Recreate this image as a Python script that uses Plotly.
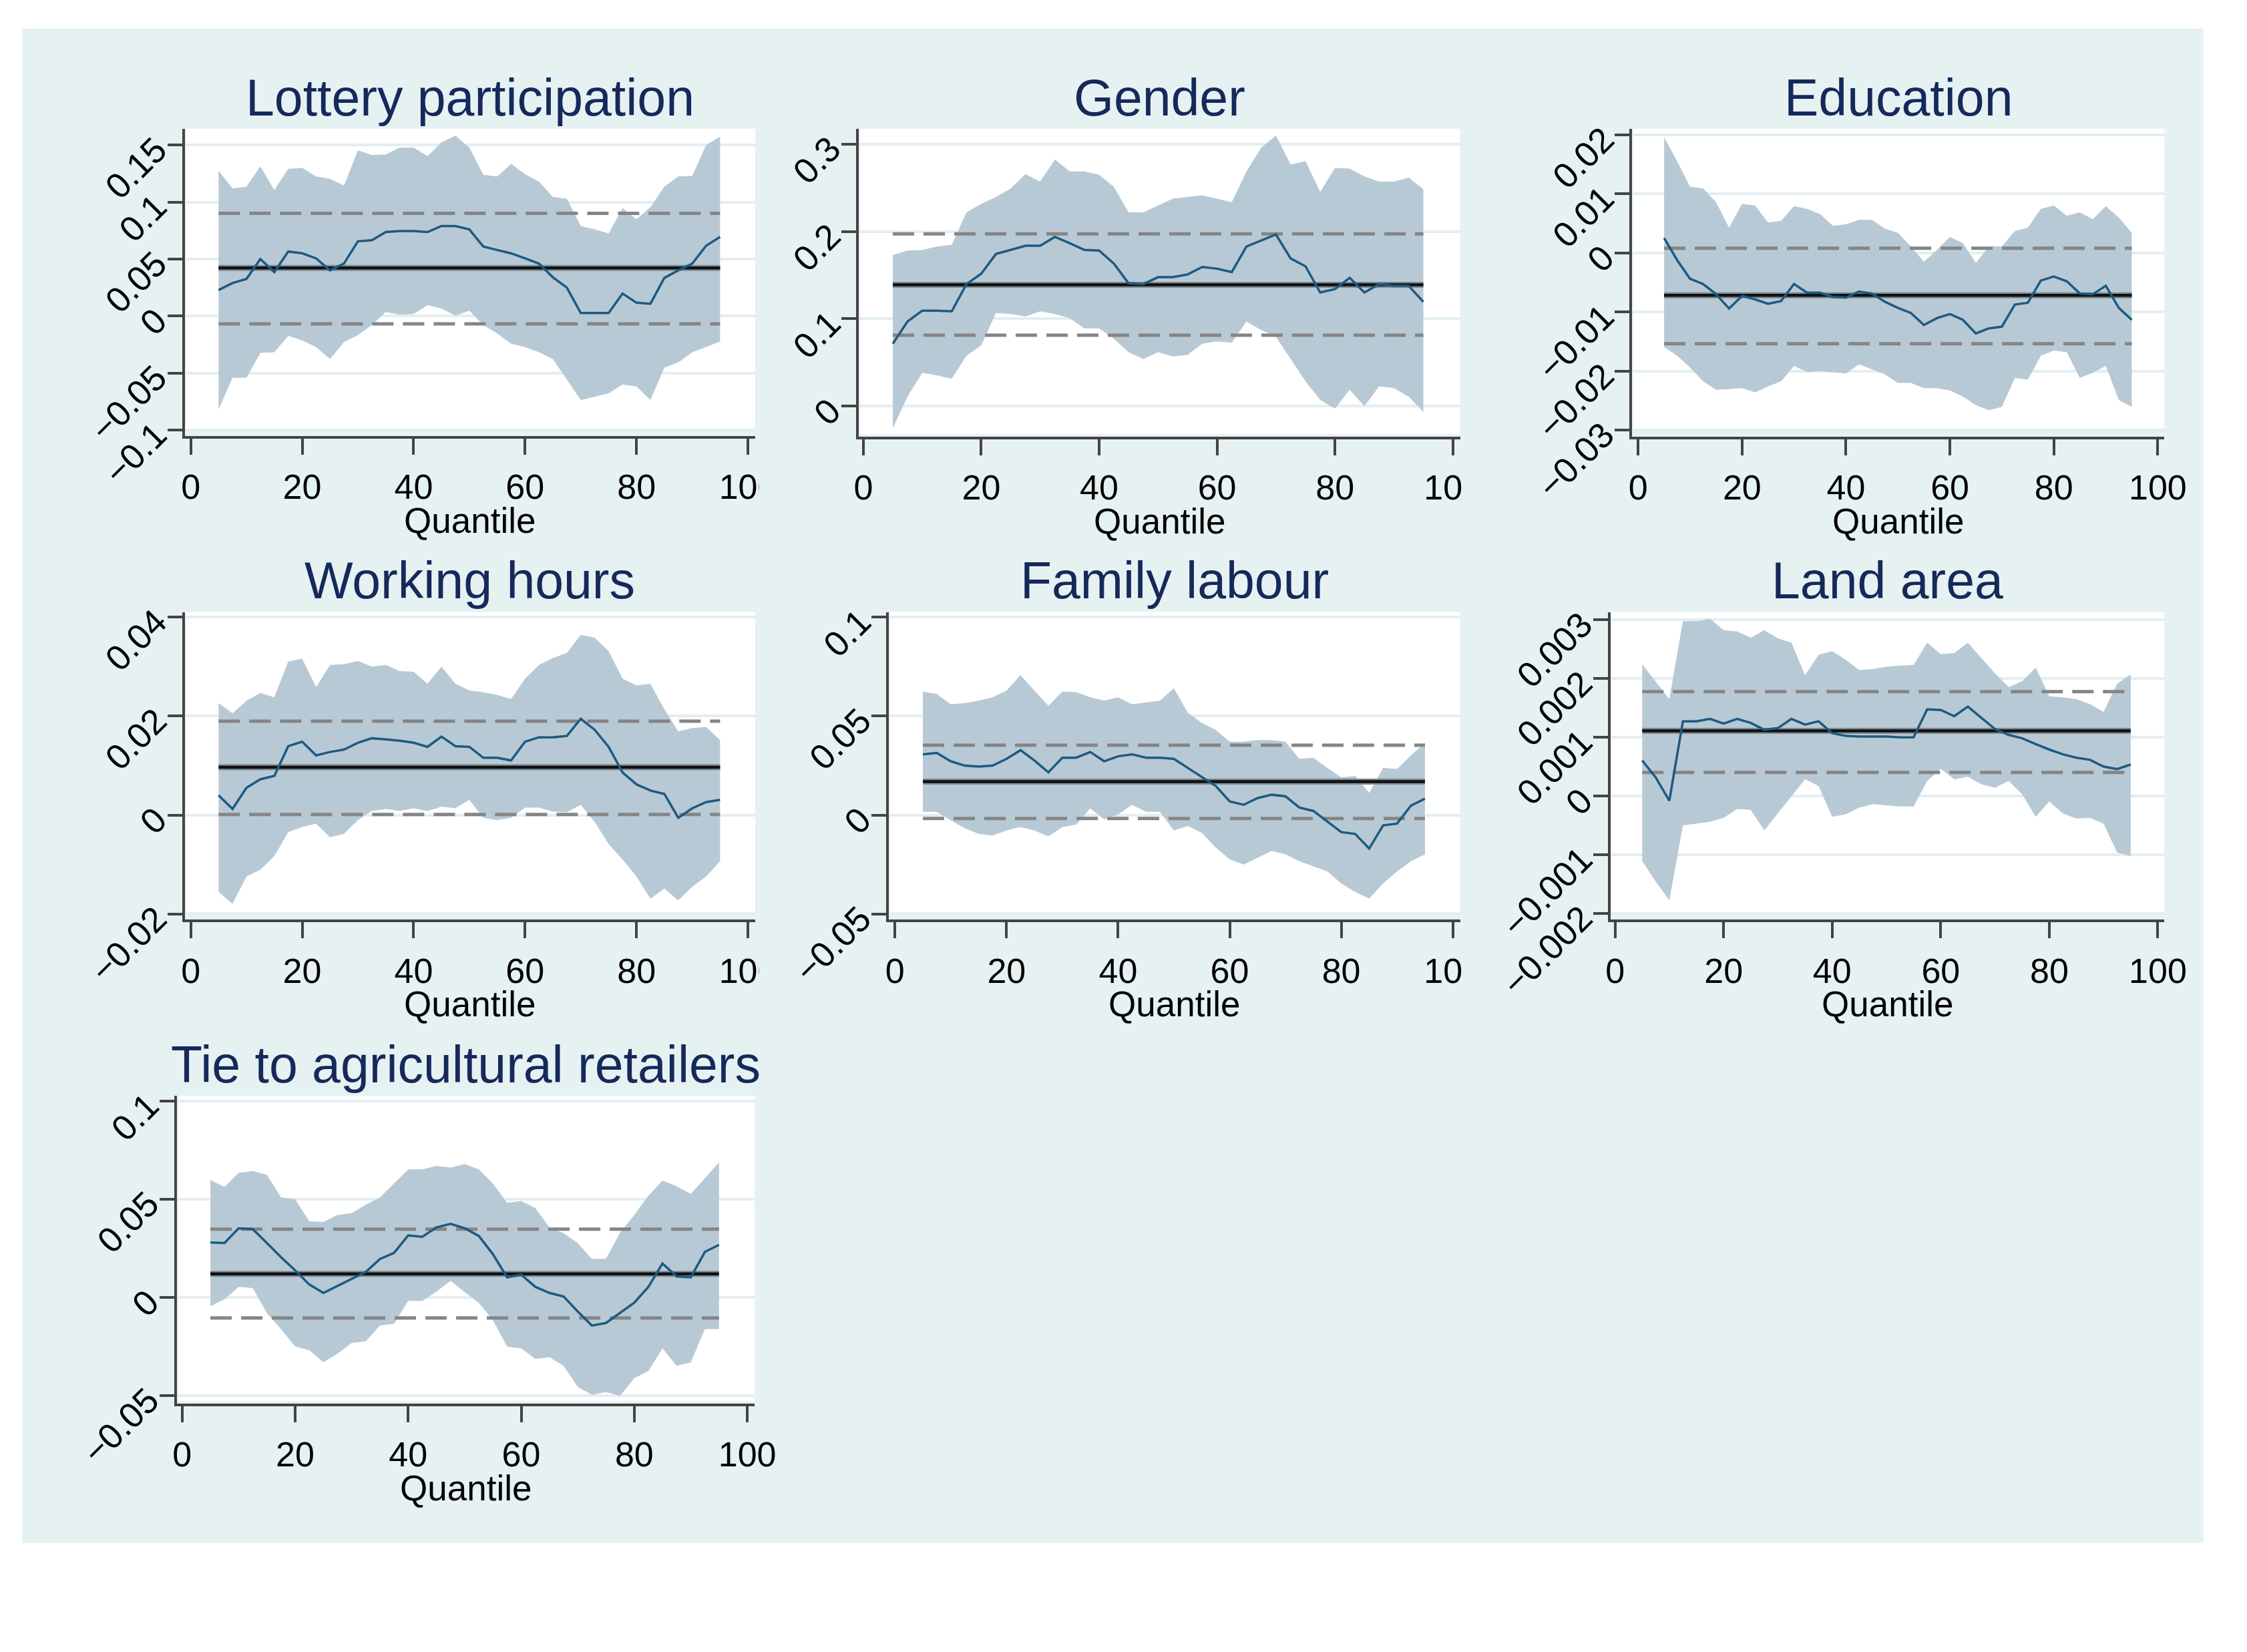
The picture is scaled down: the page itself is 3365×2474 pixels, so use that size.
import plotly.graph_objects as go

W, H = 3365, 2474
OFF = 8  # page body margin shifts the figure by this many pixels

# ---------------- data ----------------
quantiles = [5, 7.5, 10, 12.5, 15, 17.5, 20, 22.5, 25, 27.5, 30, 32.5, 35, 37.5,
             40, 42.5, 45, 47.5, 50, 52.5, 55, 57.5, 60, 62.5, 65, 67.5, 70, 72.5,
             75, 77.5, 80, 82.5, 85, 87.5, 90, 92.5, 95]
x_ticks = [0, 20, 40, 60, 80, 100]
x_ticklabels = ["0", "20", "40", "60", "80", "100"]

titles = ["Lottery participation", "Gender", "Education", "Working hours",
          "Family labour", "Land area", "Tie to agricultural retailers"]

lottery_coef = [0.0228, 0.029, 0.0326, 0.05, 0.0386, 0.0566, 0.0551, 0.0506, 0.0401, 0.0461,
                0.0656, 0.0665, 0.0737, 0.0746, 0.0746, 0.0737, 0.079, 0.079, 0.076, 0.061,
                0.058, 0.055, 0.0506, 0.046, 0.034, 0.025, 0.0027, 0.0027, 0.0027, 0.0198,
                0.0117, 0.0108, 0.0335, 0.0401, 0.046, 0.0617, 0.0695]
lottery_hi = [0.1275, 0.112, 0.1135, 0.1314, 0.1105, 0.1293, 0.13, 0.1225, 0.1204, 0.1144,
              0.1455, 0.1413, 0.1419, 0.1479, 0.1479, 0.1404, 0.1524, 0.1584, 0.1479, 0.124,
              0.1225, 0.1335, 0.1245, 0.118, 0.1045, 0.103, 0.079, 0.076, 0.0725, 0.0946,
              0.085, 0.0955, 0.1135, 0.1225, 0.123, 0.150, 0.1575]
lottery_lo = [-0.082, -0.0542, -0.0542, -0.0323, -0.0317, -0.0174, -0.0213, -0.0272, -0.0377, -0.0228,
              -0.0168, -0.0078, 0.0036, 0.0012, 0.0018, 0.0096, 0.0066, 0.0003, 0.0048, -0.0078,
              -0.0153, -0.0243, -0.0272, -0.0317, -0.0377, -0.0557, -0.0737, -0.0707, -0.0677, -0.0602,
              -0.0617, -0.0737, -0.0452, -0.0407, -0.0317, -0.0272, -0.0222]
lottery_ols = [0.0422, -0.0069, 0.0901]  # estimate, lower, upper

gender_coef = [0.0715, 0.0969, 0.1094, 0.1094, 0.1086, 0.1398, 0.1516, 0.1742, 0.1789, 0.1836,
               0.1836, 0.1938, 0.1867, 0.1789, 0.1781, 0.1633, 0.1406, 0.1398, 0.1477, 0.1477,
               0.1508, 0.1594, 0.1574, 0.1535, 0.1828, 0.1898, 0.1965, 0.1691, 0.1602, 0.1301,
               0.134, 0.1469, 0.1301, 0.1398, 0.1379, 0.1379, 0.1195]
gender_hi = [0.173, 0.1781, 0.1789, 0.1828, 0.1848, 0.2219, 0.2316, 0.2395, 0.2492, 0.2656,
             0.257, 0.2824, 0.2688, 0.2688, 0.2648, 0.2512, 0.2219, 0.2219, 0.2297, 0.2375,
             0.2395, 0.2414, 0.2375, 0.2336, 0.2688, 0.2961, 0.3098, 0.2766, 0.2805, 0.2453,
             0.2727, 0.2719, 0.2629, 0.257, 0.257, 0.2617, 0.2484]
gender_lo = [-0.025, 0.0109, 0.0383, 0.0352, 0.0313, 0.0578, 0.0695, 0.1066, 0.1055, 0.1027,
             0.1086, 0.1055, 0.1008, 0.0891, 0.0891, 0.0773, 0.0617, 0.0539, 0.0617, 0.057,
             0.0586, 0.0715, 0.0742, 0.0727, 0.0969, 0.0871, 0.0793, 0.0539, 0.0285, 0.007,
             -0.0027, 0.0188, 0.0, 0.0227, 0.0207, 0.0109, -0.0066]
gender_ols = [0.139, 0.0813, 0.1973]

education_coef = [0.00254, -0.00121, -0.00439, -0.00526, -0.00699, -0.00942, -0.00728, -0.00786,
                  -0.00861, -0.00815, -0.00526, -0.00671, -0.00671, -0.00746, -0.00757, -0.00653,
                  -0.00688, -0.00827, -0.00931, -0.01017, -0.0122, -0.01104, -0.01035, -0.01133,
                  -0.01364, -0.01277, -0.01249, -0.00873, -0.00844, -0.00468, -0.00399, -0.0048,
                  -0.00688, -0.00699, -0.00555, -0.00931, -0.01133]
education_hi = [0.0196, 0.01555, 0.01121, 0.01092, 0.00861, 0.00428, 0.00832, 0.00803, 0.00514,
                0.00543, 0.00792, 0.00746, 0.00659, 0.00457, 0.00486, 0.00561, 0.00561, 0.0041,
                0.00341, 0.0011, -0.0015, 0.00052, 0.00272, 0.00168, -0.00168, 0.0011, 0.0011,
                0.0037, 0.00428, 0.00746, 0.00803, 0.0063, 0.00688, 0.00572, 0.00792, 0.00601,
                0.00341]
education_lo = [-0.01595, -0.0174, -0.01942, -0.02173, -0.02318, -0.02306, -0.02289, -0.02364,
                -0.0226, -0.02173, -0.01913, -0.02017, -0.02, -0.02017, -0.0204, -0.01884,
                -0.01971, -0.02058, -0.02202, -0.02202, -0.02289, -0.02289, -0.02329, -0.02434,
                -0.02578, -0.02665, -0.02607, -0.02116, -0.02145, -0.0174, -0.01653, -0.01682,
                -0.02116, -0.02029, -0.01913, -0.02491, -0.02607]
education_ols = [-0.00717, -0.01538, 0.00081]

hours_coef = [0.004, 0.00124, 0.00552, 0.00724, 0.00793, 0.01393, 0.01483, 0.01207, 0.01276,
              0.01324, 0.01462, 0.01552, 0.01531, 0.01503, 0.01462, 0.01379, 0.01586, 0.01393,
              0.01379, 0.01159, 0.01159, 0.01103, 0.01483, 0.01572, 0.01572, 0.016, 0.01945,
              0.01724, 0.01379, 0.00862, 0.00621, 0.00497, 0.00428, -0.00055, 0.00138, 0.00262,
              0.0031]
hours_hi = [0.02262, 0.02055, 0.0231, 0.02469, 0.02379, 0.03103, 0.03159, 0.02586, 0.03034,
            0.03048, 0.03117, 0.03, 0.03034, 0.0291, 0.02897, 0.02655, 0.03, 0.02655, 0.02517,
            0.02483, 0.02428, 0.02345, 0.02759, 0.03034, 0.03172, 0.03276, 0.03641, 0.03586,
            0.0331, 0.02759, 0.02621, 0.02655, 0.02138, 0.0169, 0.01759, 0.01779, 0.01517]
hours_lo = [-0.01552, -0.01793, -0.01241, -0.01103, -0.00828, -0.00345, -0.00241, -0.00172,
            -0.00448, -0.00379, -0.00103, 0.00083, 0.00124, 0.00083, 0.00138, 0.00083, 0.00172,
            0.00138, 0.0031, -0.00055, -0.00103, -0.00055, 0.00152, 0.00152, 0.00069, 0.00055,
            0.00207, -0.00138, -0.00586, -0.00897, -0.01241, -0.0169, -0.01483, -0.01724,
            -0.01448, -0.01241, -0.00931]
hours_ols = [0.00966, 0.00014, 0.01897]

family_coef = [0.0307, 0.0314, 0.0272, 0.025, 0.0245, 0.025, 0.0284, 0.0328, 0.0276, 0.0216,
               0.029, 0.029, 0.0319, 0.0272, 0.0297, 0.0307, 0.029, 0.029, 0.0284, 0.0238,
               0.0193, 0.0147, 0.0069, 0.0052, 0.0086, 0.0103, 0.0095, 0.0038, 0.0021, -0.0031,
               -0.0086, -0.0095, -0.0169, -0.0052, -0.0043, 0.0048, 0.0083]
family_hi = [0.0624, 0.0612, 0.056, 0.0566, 0.0578, 0.0595, 0.0629, 0.0707, 0.0629, 0.0552,
             0.0624, 0.0621, 0.0595, 0.0578, 0.0595, 0.056, 0.0569, 0.0578, 0.0641, 0.0517,
             0.0466, 0.0431, 0.0371, 0.0371, 0.0379, 0.0379, 0.0371, 0.0284, 0.029, 0.0238,
             0.019, 0.0198, 0.0112, 0.0238, 0.0233, 0.0302, 0.0366]
family_lo = [0.0017, 0.0017, -0.0026, -0.0066, -0.0095, -0.0103, -0.0078, -0.006, -0.0078, -0.0107,
             -0.006, -0.0048, 0.0034, -0.0021, 0.0003, 0.0052, 0.0017, 0.0017, -0.0078, -0.0055,
             -0.009, -0.0164, -0.0224, -0.025, -0.0216, -0.0181, -0.0198, -0.0233, -0.0259, -0.0284,
             -0.0345, -0.0388, -0.0422, -0.0345, -0.0284, -0.0233, -0.0198]
family_ols = [0.0169, -0.0017, 0.0353]

land_coef = [0.000605, 0.000314, -0.000081, 0.001273, 0.001273, 0.001314, 0.001233, 0.001314,
             0.001244, 0.001128, 0.001157, 0.001314, 0.001215, 0.001273, 0.00107, 0.001023,
             0.001012, 0.001012, 0.001012, 0.001, 0.001, 0.001477, 0.001465, 0.00136, 0.001523,
             0.001331, 0.00114, 0.001041, 0.000983, 0.000884, 0.000791, 0.00071, 0.000651,
             0.000616, 0.0005, 0.000459, 0.000535]
land_hi = [0.002244, 0.001942, 0.001651, 0.002977, 0.002977, 0.003017, 0.002826, 0.002802,
           0.002698, 0.002826, 0.002686, 0.00261, 0.002058, 0.002407, 0.002465, 0.00232,
           0.002145, 0.002163, 0.002203, 0.002221, 0.002233, 0.00261, 0.002419, 0.002436,
           0.00261, 0.002349, 0.002087, 0.001855, 0.001953, 0.002186, 0.001698, 0.00168,
           0.001651, 0.001564, 0.00143, 0.001913, 0.00207]
land_lo = [-0.00111, -0.00146, -0.00178, -0.0005, -0.000471, -0.000442, -0.000372, -0.000221,
           -0.000238, -0.000587, -0.000297, -0.000006, 0.000285, 0.000169, -0.000355, -0.000314,
           -0.000198, -0.00014, -0.000163, -0.00018, -0.00018, 0.000256, 0.00046, 0.000285,
           0.000326, 0.000198, 0.00014, 0.000256, 0.000029, -0.000355, -0.000093, -0.000297,
           -0.000384, -0.000372, -0.000471, -0.000965, -0.001023]
land_ols = [0.00111, 0.000401, 0.001779]

tie_coef = [0.028, 0.0277, 0.0352, 0.0348, 0.0277, 0.0205, 0.0138, 0.0066, 0.0023, 0.0059,
            0.0095, 0.013, 0.0196, 0.0227, 0.0316, 0.0309, 0.0357, 0.0375, 0.0352, 0.0313,
            0.022, 0.0102, 0.0116, 0.0054, 0.0023, 0.0005, -0.0071, -0.0143, -0.013, -0.008,
            -0.0027, 0.0054, 0.0173, 0.0107, 0.0102, 0.0232, 0.0268]
tie_hi = [0.0598, 0.0563, 0.0634, 0.0643, 0.0625, 0.0509, 0.05, 0.0388, 0.0384, 0.042,
          0.0429, 0.0473, 0.0509, 0.058, 0.0652, 0.0652, 0.067, 0.0661, 0.0679, 0.0652,
          0.058, 0.0482, 0.0491, 0.0455, 0.0357, 0.0327, 0.0277, 0.0196, 0.0196, 0.033,
          0.042, 0.0518, 0.0595, 0.0566, 0.0527, 0.0607, 0.0688]
tie_lo = [-0.0045, -0.0009, 0.0054, 0.0048, -0.008, -0.0161, -0.025, -0.0268, -0.033, -0.0286,
          -0.0232, -0.0223, -0.0143, -0.0134, -0.0018, -0.0018, 0.003, 0.0084, 0.0027, -0.0027,
          -0.0116, -0.025, -0.0259, -0.0313, -0.0304, -0.0348, -0.0455, -0.0495, -0.0482, -0.05,
          -0.0411, -0.0375, -0.0259, -0.0348, -0.033, -0.0161, -0.0161]
tie_ols = [0.012, -0.0104, 0.0348]

y_ticks = [
    [0.15, 0.1, 0.05, 0, -0.05, -0.1],
    [0.3, 0.2, 0.1, 0],
    [0.02, 0.01, 0, -0.01, -0.02, -0.03],
    [0.04, 0.02, 0, -0.02],
    [0.1, 0.05, 0, -0.05],
    [0.003, 0.002, 0.001, 0, -0.001, -0.002],
    [0.1, 0.05, 0, -0.05],
]
y_ticklabels = [
    ["0.15", "0.1", "0.05", "0", "−0.05", "−0.1"],
    ["0.3", "0.2", "0.1", "0"],
    ["0.02", "0.01", "0", "−0.01", "−0.02", "−0.03"],
    ["0.04", "0.02", "0", "−0.02"],
    ["0.1", "0.05", "0", "−0.05"],
    ["0.003", "0.002", "0.001", "0", "−0.001", "−0.002"],
    ["0.1", "0.05", "0", "−0.05"],
]

series = [
    (lottery_coef, lottery_lo, lottery_hi, lottery_ols),
    (gender_coef, gender_lo, gender_hi, gender_ols),
    (education_coef, education_lo, education_hi, education_ols),
    (hours_coef, hours_lo, hours_hi, hours_ols),
    (family_coef, family_lo, family_hi, family_ols),
    (land_coef, land_lo, land_hi, land_ols),
    (tie_coef, tie_lo, tie_hi, tie_ols),
]

# ---------------- layout (pixel geometry of the picture) ----------------
panels = [
    dict(l=272, r=1137, t=187, b=675, xr=[-1.07, 101.3], yr=[-0.10525, 0.16436], wb=0.0225),
    dict(l=1294, r=2206, t=187, b=676, xr=[-0.78, 101.23], yr=[-0.0349, 0.3176], wb=0.008),
    dict(l=2467, r=3274, t=187, b=676, xr=[-1.14, 101.27], yr=[-0.03111, 0.02103], wb=0.0245),
    dict(l=272, r=1137, t=954.5, b=1443, xr=[-1.07, 101.3], yr=[-0.02112, 0.04103], wb=0.0237),
    dict(l=1340, r=2206, t=954.5, b=1443, xr=[-1.06, 101.3], yr=[-0.0528, 0.10258], wb=0.0237),
    dict(l=2434, r=3274, t=954.5, b=1443, xr=[-0.85, 101.2], yr=[-0.002107, 0.003134], wb=0.0237),
    dict(l=260, r=1136, t=1722.6, b=2211.5, xr=[-0.93, 101.28], yr=[-0.054, 0.1027], wb=0.008),
]


def px_x(px):
    return (px - OFF) / W


def px_y(py):
    return 1 - (py - OFF) / H


BG = "#e6f1f2"
CI_FILL = "#b8c9d6"
LINE = "#1d5a80"
AXIS = "#444444"
TITLE_C = "#15295a"
FONT = "Liberation Sans, Arial, Helvetica, sans-serif"

fig = go.Figure()
shapes = [dict(type="rect", xref="paper", yref="paper", x0=px_x(25), x1=px_x(3333),
               y0=px_y(2433), y1=px_y(28), fillcolor=BG, line=dict(width=0), layer="below")]
annotations = []

for i, (p, (coef, lo, hi, ols)) in enumerate(zip(panels, series)):
    n = i + 1
    xa = "x" if n == 1 else f"x{n}"
    ya = "y" if n == 1 else f"y{n}"
    xk = "xaxis" if n == 1 else f"xaxis{n}"
    yk = "yaxis" if n == 1 else f"yaxis{n}"

    # quantile-regression confidence band
    fig.add_trace(go.Scatter(x=quantiles + quantiles[::-1], y=hi + lo[::-1], fill="toself",
                             fillcolor=CI_FILL, line=dict(width=0), mode="lines",
                             hoverinfo="skip", showlegend=False, xaxis=xa, yaxis=ya))
    est, ols_lo, ols_hi = ols
    x_ends = [quantiles[0], quantiles[-1]]
    for v in (ols_hi, ols_lo):
        fig.add_trace(go.Scatter(x=x_ends, y=[v, v], mode="lines",
                                 line=dict(color="#858585", width=5, dash="32px,14px"),
                                 showlegend=False, xaxis=xa, yaxis=ya))
    fig.add_trace(go.Scatter(x=x_ends, y=[est, est], mode="lines",
                             line=dict(color="#7d8a93", width=9),
                             showlegend=False, xaxis=xa, yaxis=ya))
    fig.add_trace(go.Scatter(x=x_ends, y=[est, est], mode="lines",
                             line=dict(color="#111111", width=4.5),
                             showlegend=False, xaxis=xa, yaxis=ya))
    fig.add_trace(go.Scatter(x=quantiles, y=coef, mode="lines",
                             line=dict(color=LINE, width=3.5),
                             showlegend=False, xaxis=xa, yaxis=ya))

    common = dict(showline=True, linecolor=AXIS, linewidth=4, ticks="outside",
                  tickwidth=4, tickcolor=AXIS, zeroline=False)
    fig.layout[xk] = dict(domain=[px_x(p["l"]), px_x(p["r"])], range=p["xr"], anchor=ya,
                          tickvals=x_ticks, ticktext=x_ticklabels, ticklen=24,
                          showgrid=False, ticklabelstandoff=4,
                          tickfont=dict(family=FONT, size=52, color="black"), **common)
    fig.layout[yk] = dict(domain=[px_y(p["b"]), px_y(p["t"])], range=p["yr"], anchor=xa,
                          tickvals=y_ticks[i], ticktext=y_ticklabels[i], ticklen=22,
                          tickangle=-45, showgrid=True, gridcolor="#e3eef0", gridwidth=4,
                          ticklabelstandoff=6,
                          tickfont=dict(family=FONT, size=53, color="black"), **common)

    # white plot region
    shapes.append(dict(type="rect", xref=f"{xa} domain", yref=f"{ya} domain",
                       x0=0.002, x1=1, y0=p["wb"], y1=1, fillcolor="white",
                       line=dict(width=0), layer="below"))

    cx = (p["l"] + p["r"]) / 2
    annotations.append(dict(text=titles[i], x=px_x(cx), y=px_y(p["t"] - 50),
                            xref="paper", yref="paper", xanchor="center", yanchor="middle",
                            showarrow=False, font=dict(family=FONT, size=77, color=TITLE_C)))
    annotations.append(dict(text="Quantile", x=px_x(cx), y=px_y(p["b"] + 134),
                            xref="paper", yref="paper", xanchor="center", yanchor="middle",
                            showarrow=False, font=dict(family=FONT, size=53, color="black")))

# cells of the combined graph clip the "100" labels of the left/middle columns
for (x0, y0) in [(1143, 700), (2211, 700), (1143, 1468), (2211, 1468)]:
    shapes.append(dict(type="rect", xref="paper", yref="paper", x0=px_x(x0), x1=px_x(x0 + 50),
                       y0=px_y(y0 + 90), y1=px_y(y0), fillcolor=BG,
                       line=dict(width=0), layer="above"))

fig.update_layout(width=W, height=H, margin=dict(l=0, r=0, t=0, b=0),
                  paper_bgcolor="white", plot_bgcolor="rgba(0,0,0,0)",
                  shapes=shapes, annotations=annotations, showlegend=False)

fig.write_html("out.html")
